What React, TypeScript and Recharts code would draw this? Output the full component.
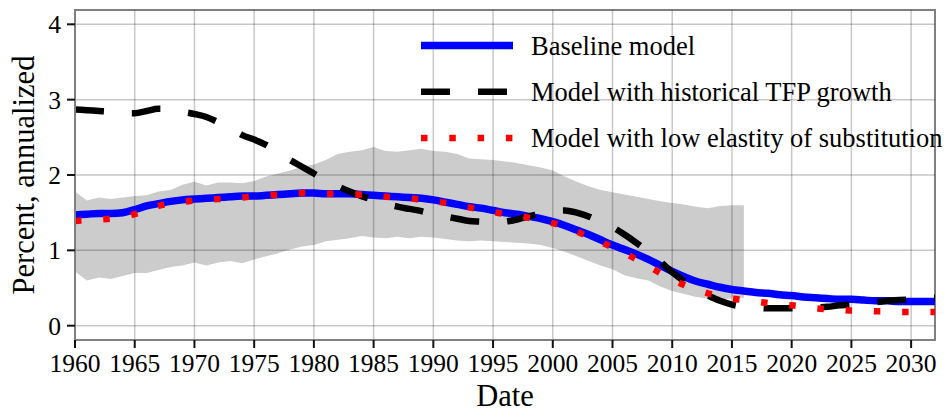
import React from 'react'
import {
  ComposedChart,
  Area,
  Line,
  XAxis,
  YAxis,
  ReferenceLine,
  ReferenceArea,
} from 'recharts'

const years = Array.from({ length: 73 }, (_, i) => 1960 + i)

// baseline model, 1960..2032
const baseline = [
  1.47, 1.48, 1.49, 1.49, 1.5, 1.54, 1.59, 1.62, 1.65, 1.67,
  1.68, 1.69, 1.7, 1.71, 1.72, 1.72, 1.73, 1.74, 1.75, 1.76,
  1.76, 1.75, 1.75, 1.75, 1.74, 1.73, 1.72, 1.71, 1.7, 1.69,
  1.67, 1.64, 1.61, 1.58, 1.56, 1.53, 1.5, 1.48, 1.45, 1.42,
  1.38, 1.33, 1.27, 1.21, 1.14, 1.07, 1.01, 0.95, 0.88, 0.8,
  0.72, 0.65, 0.59, 0.55, 0.51, 0.48, 0.46, 0.44, 0.43, 0.41,
  0.4, 0.38, 0.37, 0.36, 0.35, 0.35, 0.34, 0.33, 0.33, 0.32,
  0.32, 0.32, 0.32,
]

// historical TFP growth
const tfp = [
  2.87, 2.86, 2.85, 2.84, 2.82, 2.82, 2.85, 2.88, 2.87, 2.84,
  2.81, 2.77, 2.7, 2.62, 2.53, 2.47, 2.4, 2.3, 2.2, 2.11,
  2.02, 1.93, 1.85, 1.78, 1.72, 1.67, 1.62, 1.58, 1.55, 1.52,
  1.48, 1.45, 1.42, 1.39, 1.38, 1.37, 1.38, 1.41, 1.45, 1.49,
  1.52, 1.53, 1.5, 1.45, 1.38, 1.31, 1.21, 1.1, 0.98, 0.85,
  0.71, 0.59, 0.48, 0.4, 0.33, 0.28, 0.25, 0.24, 0.23, 0.23,
  0.23, 0.23, 0.24, 0.25, 0.27, 0.28, 0.3, 0.31, 0.33, 0.34,
  0.35, 0.36, 0.37,
]

// low elasticity of substitution
const lowElast = [
  1.39, 1.4, 1.41, 1.42, 1.44, 1.48, 1.54, 1.59, 1.62, 1.64,
  1.66, 1.67, 1.68, 1.69, 1.7, 1.72, 1.73, 1.74, 1.75, 1.76,
  1.76, 1.75, 1.75, 1.74, 1.74, 1.72, 1.71, 1.7, 1.69, 1.67,
  1.65, 1.63, 1.6, 1.57, 1.54, 1.51, 1.48, 1.46, 1.43, 1.39,
  1.36, 1.31, 1.25, 1.18, 1.11, 1.04, 0.96, 0.88, 0.79, 0.7,
  0.61, 0.54, 0.48, 0.43, 0.39, 0.36, 0.34, 0.32, 0.3, 0.28,
  0.27, 0.25, 0.23, 0.22, 0.21, 0.2, 0.2, 0.19, 0.19, 0.18,
  0.18, 0.18, 0.18,
]

// uncertainty band, 1960..2016
const bandLow = [
  0.72, 0.6, 0.64, 0.62, 0.66, 0.7, 0.7, 0.74, 0.78, 0.8,
  0.84, 0.8, 0.84, 0.86, 0.83, 0.88, 0.92, 0.96, 1.01, 1.05,
  1.07, 1.12, 1.14, 1.16, 1.19, 1.17, 1.16, 1.18, 1.16, 1.18,
  1.17, 1.15, 1.13, 1.12, 1.13, 1.12, 1.11, 1.1, 1.09, 1.07,
  1.03, 0.98, 0.92, 0.86, 0.8, 0.75, 0.67, 0.63, 0.6, 0.52,
  0.46, 0.42, 0.38, 0.36, 0.35, 0.36, 0.37,
]
const bandHigh = [
  1.78, 1.66, 1.7, 1.68, 1.7, 1.72, 1.73, 1.78, 1.8, 1.87,
  1.91, 1.86, 1.9, 1.9, 1.89, 1.92, 1.98, 2.02, 2.06, 2.11,
  2.14, 2.2, 2.28, 2.31, 2.33, 2.37, 2.32, 2.31, 2.33, 2.35,
  2.32, 2.31, 2.28, 2.22, 2.21, 2.2, 2.18, 2.16, 2.13, 2.1,
  2.06, 1.98, 1.91, 1.85, 1.8, 1.77, 1.74, 1.71, 1.68, 1.65,
  1.63, 1.61, 1.58, 1.56, 1.59, 1.6, 1.6,
]

const xTicks = [1960, 1965, 1970, 1975, 1980, 1985, 1990, 1995, 2000, 2005, 2010, 2015, 2020, 2025, 2030]
const yTicks = [0, 1, 2, 3, 4]

const legendItems = [
  { label: 'Baseline model', color: '#0000ff', width: 7.5, dash: undefined },
  { label: 'Model with historical TFP growth', color: '#000000', width: 6.5, dash: '29 28' },
  { label: 'Model with low elastity of substitution', color: '#ff0000', width: 6.5, dash: '6.5 21.8' },
]

const data = years.map((year, i) => ({
  year,
  baseline: baseline[i],
  tfp: tfp[i],
  lowElast: lowElast[i],
  band: i < bandLow.length ? [bandLow[i], bandHigh[i]] : undefined,
}))

const FONT = '"Liberation Serif", "Times New Roman", serif'
const X_MIN = 1960
const X_MAX = 2032
const Y_MIN = -0.19
const Y_MAX = 4.19

function ChartLegend() {
  return (
    <svg
      width={948}
      height={413}
      style={{ position: 'absolute', left: 0, top: 0, pointerEvents: 'none' }}
    >
      {legendItems.map((item, i) => {
        const cy = 45.5 + i * 46.2
        return (
          <g key={item.label}>
            <line
              x1={421}
              x2={513}
              y1={cy}
              y2={cy}
              stroke={item.color}
              strokeWidth={item.width}
              strokeDasharray={item.dash}
            />
            <text x={531} y={cy + 9.5} fontSize={26.5} fontFamily={FONT} fill="#000">
              {item.label}
            </text>
          </g>
        )
      })}
    </svg>
  )
}

export default function App() {
  return (
    <div style={{ position: 'absolute', left: 0, top: 0, width: 948, height: 413, background: '#fff' }}>
      <ComposedChart
        width={948}
        height={413}
        data={data}
        margin={{ top: 10, right: 13, bottom: 0, left: 0 }}
      >
        <XAxis
          dataKey="year"
          type="number"
          domain={[X_MIN, X_MAX]}
          ticks={xTicks}
          allowDataOverflow
          height={73}
          interval={0}
          tickSize={8}
          tickMargin={6}
          axisLine={{ stroke: '#808080', strokeWidth: 2 }}
          tickLine={{ stroke: '#111', strokeWidth: 2 }}
          tick={{ fill: '#000', fontSize: 25.5, fontFamily: FONT }}
          label={{
            value: 'Date',
            position: 'insideBottom',
            offset: 7,
            fill: '#000',
            fontSize: 30.5,
            fontFamily: FONT,
          }}
        />
        <YAxis
          type="number"
          domain={[Y_MIN, Y_MAX]}
          ticks={yTicks}
          allowDataOverflow
          width={75}
          interval={0}
          tickSize={8}
          tickMargin={6}
          axisLine={{ stroke: '#808080', strokeWidth: 2 }}
          tickLine={{ stroke: '#111', strokeWidth: 2 }}
          tick={{ fill: '#000', fontSize: 25.5, fontFamily: FONT }}
          label={{
            value: 'Percent, annualized',
            angle: -90,
            position: 'insideLeft',
            offset: 23,
            style: { textAnchor: 'middle' },
            fill: '#000',
            fontSize: 30.5,
            fontFamily: FONT,
          }}
        />
        <Area
          dataKey="band"
          type="linear"
          stroke="none"
          fill="#cccccc"
          fillOpacity={1}
          isAnimationActive={false}
          activeDot={false}
        />
        {xTicks.map((t) => (
          <ReferenceLine key={'gx' + t} x={t} stroke="#000" strokeOpacity={0.22} strokeWidth={1.5} />
        ))}
        {yTicks.map((t) => (
          <ReferenceLine key={'gy' + t} y={t} stroke="#000" strokeOpacity={0.22} strokeWidth={1.5} />
        ))}
        <Line
          dataKey="baseline"
          type="monotone"
          stroke="#0000ff"
          strokeWidth={7.5}
          dot={false}
          activeDot={false}
          isAnimationActive={false}
        />
        <Line
          dataKey="tfp"
          type="monotone"
          stroke="#000000"
          strokeWidth={6.5}
          strokeDasharray="29 28"
          dot={false}
          activeDot={false}
          isAnimationActive={false}
        />
        <Line
          dataKey="lowElast"
          type="monotone"
          stroke="#ff0000"
          strokeWidth={6.5}
          strokeDasharray="6.5 21.8"
          dot={false}
          activeDot={false}
          isAnimationActive={false}
        />
        <ReferenceArea
          x1={X_MIN}
          x2={X_MAX}
          y1={Y_MIN}
          y2={Y_MAX}
          fill="none"
          stroke="#808080"
          strokeWidth={2}
          ifOverflow="visible"
        />
      </ComposedChart>
      <ChartLegend />
    </div>
  )
}
